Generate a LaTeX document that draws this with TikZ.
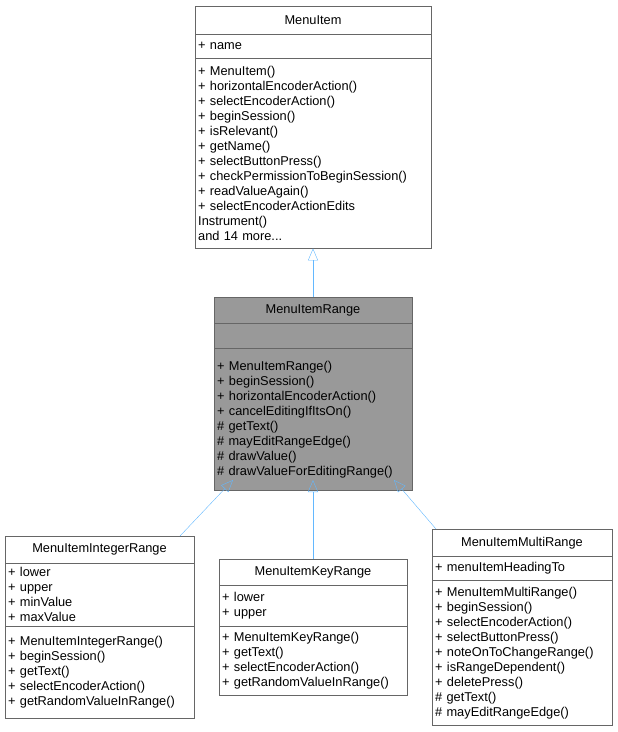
\documentclass[tikz,border=0pt]{standalone}
\usepackage{fontspec}
\setmainfont{Liberation Sans}
\usetikzlibrary{positioning, arrows.meta}
\definecolor{edgeblue}{HTML}{63B8FF}
\definecolor{boxline}{HTML}{666666}
\tikzset{
  sec/.style={draw=boxline, fill=white, inner xsep=3pt, inner ysep=3pt, align=left,
    font=\fontsize{12.8}{15}\selectfont, anchor=north west},
  ttl/.style={sec, align=center, anchor=north},
  inherit/.style={draw=edgeblue, -{Triangle[open, length=12pt, width=10pt]}},
}
\begin{document}
\begin{tikzpicture}[x=1pt, y=-1pt]
\useasboundingbox (0,0) rectangle (618,732);
% base class
\node[ttl, minimum width=236pt, minimum height=28pt] (mi) at (313,6) {MenuItem};
\node[sec, text width=230pt, minimum height=24pt] (mia) at (195,34) {+ name};
\node[sec, text width=230pt, minimum height=190pt] (mim) at (195,58)
  {+ MenuItem()\\+ horizontalEncoderAction()\\+ selectEncoderAction()\\+ beginSession()\\+ isRelevant()\\+ getName()\\+ selectButtonPress()\\+ checkPermissionToBeginSession()\\+ readValueAgain()\\+ selectEncoderActionEdits\\Instrument()\\and 14 more...};
% range class
\node[ttl, fill=gray!80, minimum width=198pt, minimum height=26pt] (mr) at (313,297) {MenuItemRange};
\node[sec, fill=gray!80, text width=192pt, minimum height=25pt] (mra) at (214,323) {};
\node[sec, fill=gray!80, text width=192pt, minimum height=142pt] (mrm) at (214,348)
  {+ MenuItemRange()\\+ beginSession()\\+ horizontalEncoderAction()\\+ cancelEditingIfItsOn()\\\# getText()\\\# mayEditRangeEdge()\\\# drawValue()\\\# drawValueForEditingRange()};
% integer range
\node[ttl, minimum width=189pt, minimum height=27pt] (mir) at (99.5,536) {MenuItemIntegerRange};
\node[sec, text width=183pt, minimum height=63pt] (mira) at (5,563) {+ lower\\+ upper\\+ minValue\\+ maxValue};
\node[sec, text width=183pt, minimum height=92pt] (mirm) at (5,626)
  {+ MenuItemIntegerRange()\\+ beginSession()\\+ getText()\\+ selectEncoderAction()\\+ getRandomValueInRange()};
% key range
\node[ttl, minimum width=188pt, minimum height=26pt] (mkr) at (313,559) {MenuItemKeyRange};
\node[sec, text width=182pt, minimum height=41pt] (mkra) at (219,585) {+ lower\\+ upper};
\node[sec, text width=182pt, minimum height=69pt] (mkrm) at (219,626)
  {+ MenuItemKeyRange()\\+ getText()\\+ selectEncoderAction()\\+ getRandomValueInRange()};
% multi range
\node[ttl, minimum width=180pt, minimum height=27pt] (mmr) at (522,529) {MenuItemMultiRange};
\node[sec, text width=174pt, minimum height=24pt] (mmra) at (432,556) {+ menuItemHeadingTo};
\node[sec, text width=174pt, minimum height=145pt] (mmrm) at (432,580)
  {+ MenuItemMultiRange()\\+ beginSession()\\+ selectEncoderAction()\\+ selectButtonPress()\\+ noteOnToChangeRange()\\+ isRangeDependent()\\+ deletePress()\\\# getText()\\\# mayEditRangeEdge()};
% inheritance
\draw[inherit] (mr.north) -- (mim.south -| mr.north);
\draw[inherit] (mir.north -| 180,0) -- (233,480);
\draw[inherit] (mkr.north) -- (313,480);
\draw[inherit] (mmr.north -| 436,0) -- (394,480);
\end{tikzpicture}
\end{document}
